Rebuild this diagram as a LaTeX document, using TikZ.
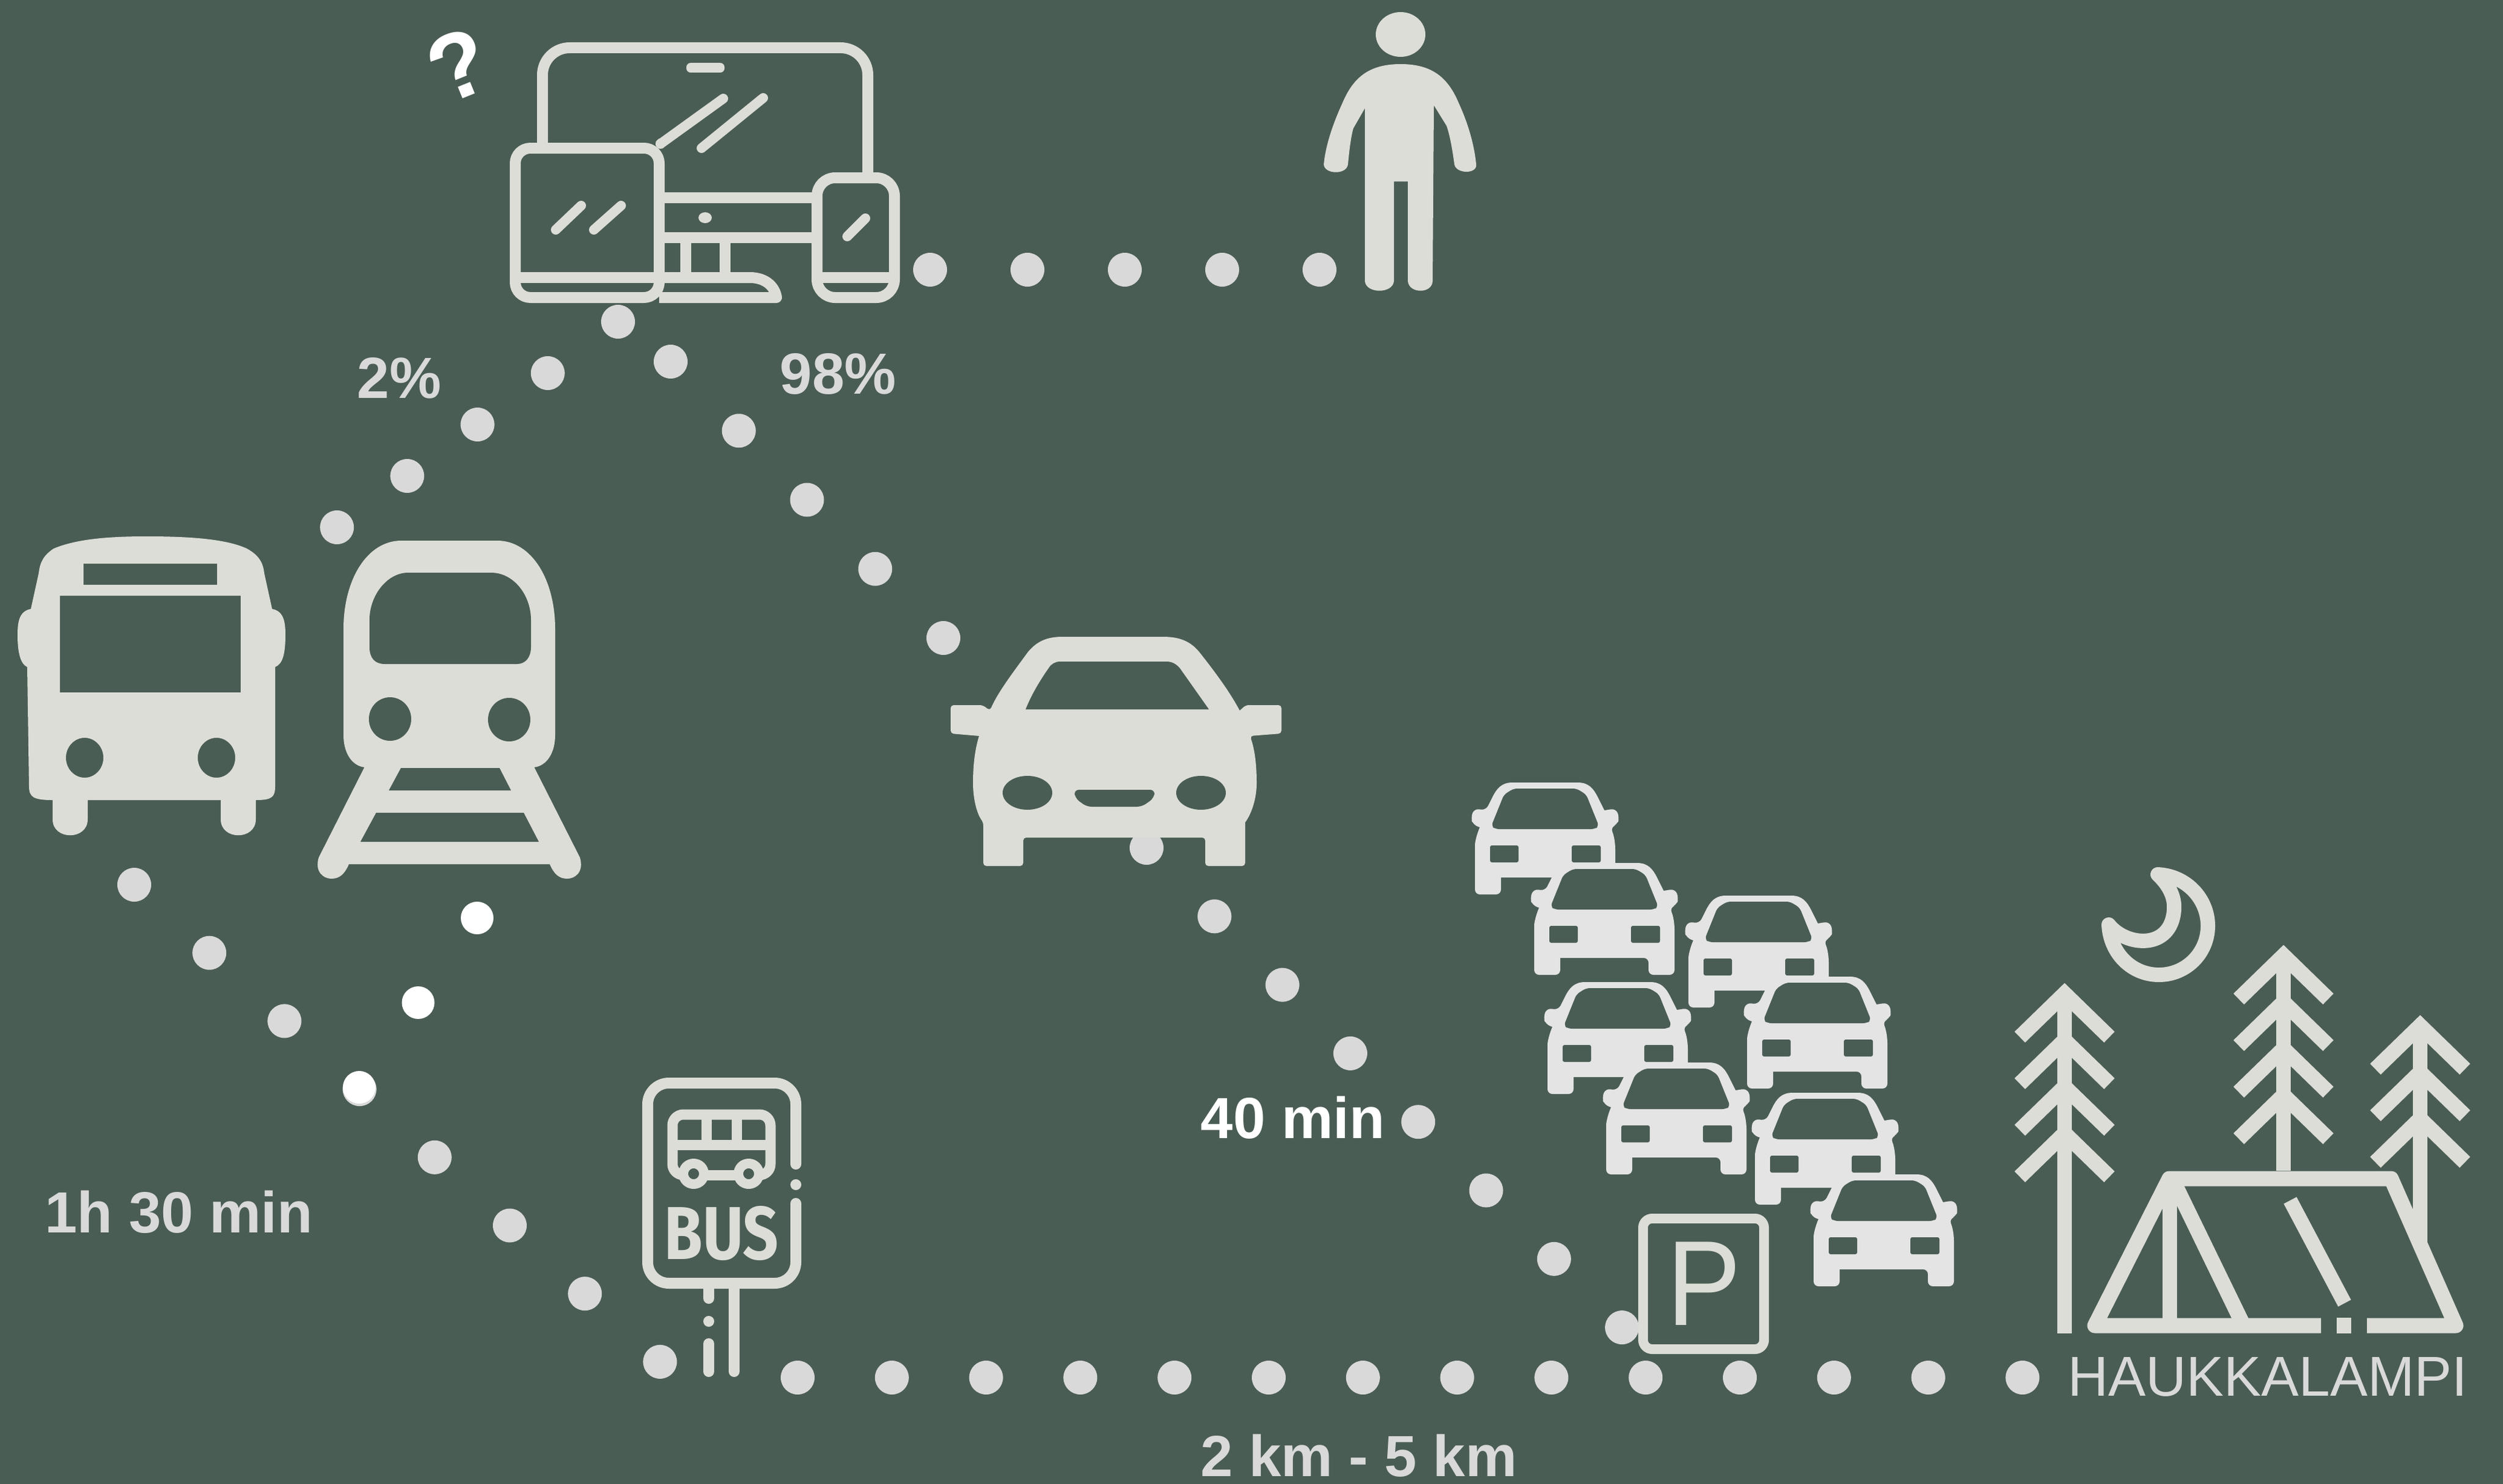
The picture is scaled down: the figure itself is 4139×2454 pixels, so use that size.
\documentclass[tikz,border=0pt]{standalone}
\usepackage{fontspec}
\setmainfont{Liberation Sans}
\newfontfamily\busfont{Fira Sans}
\definecolor{bgc}{HTML}{4A5D54}
\definecolor{iconc}{HTML}{DCDDD7}
\definecolor{dotc}{HTML}{D9D9D9}
\definecolor{carc}{HTML}{E4E4E4}
\tikzset{
  dotg/.style={fill=dotc},
  dotw/.style={fill=white},
  lab/.style={inner sep=0pt,font=\fontsize{96}{100}\selectfont\bfseries,text=dotc},
  labw/.style={lab,text=white},
  ico/.style={draw=iconc,line width=18pt,line join=round,line cap=round},
  glare/.style={draw=iconc,line width=16pt,line cap=round},
  chev/.style={draw=iconc,line width=25pt,line join=miter,line cap=butt},
  trafficcar/.pic={
    \fill[carc] (-54,0) -- (54,0) .. controls (72,0) and (80,10) .. (87,24) -- (98,46) [rounded corners=8pt] -- (117,43) -- (123,58) -- (119,70) -- (108,74) [sharp corners] .. controls (114,88) and (116,100) .. (116,111) [rounded corners=8pt] -- (116,185) -- (73,185) -- (73,157) [sharp corners] -- (-73,157) [rounded corners=8pt] -- (-73,185) -- (-116,185) -- (-116,111) [sharp corners] .. controls (-116,100) and (-114,88) .. (-108,74) [rounded corners=8pt] -- (-119,70) -- (-123,58) -- (-117,43) -- (-98,46) [sharp corners] -- (-87,24) .. controls (-80,10) and (-72,0) .. (-54,0) -- cycle;
    \fill[bgc,rounded corners=6pt] (-52,10) -- (52,10) -- (68,20) -- (89,72) -- (82,77) -- (-82,77) -- (-89,72) -- (-68,20) -- cycle;
    \fill[bgc,rounded corners=3pt] (-91,104) rectangle (-44,132);
    \fill[bgc,rounded corners=3pt] (44,104) rectangle (92,132);
  },
  treechev/.pic={
    \draw[chev] (-74,72) -- (0,0) -- (74,72);
  }
}
\begin{document}
\begin{tikzpicture}[x=1pt,y=-1pt]
\fill[bgc] (0,0) rectangle (4139,2454);
\useasboundingbox (0,0) rectangle (4139,2454);

% dotted routes
\foreach \i in {0,...,4} \fill[dotg] ({1538+161*\i},446) circle [radius=28];
\foreach \i in {0,...,4} \fill[dotg] ({1022-116.2*\i},{532+85*\i}) circle [radius=28];
\foreach \i in {0,...,4} \fill[dotg] ({1109+112.75*\i},{598+114.25*\i}) circle [radius=28];
\foreach \i in {0,...,7} \fill[dotg] ({1896+112.3*\i},{1402+113.3*\i}) circle [radius=28];
\foreach \i in {0,...,7} \fill[dotg] ({222+124.2*\i},{1463+112.7*\i}) circle [radius=28];
\foreach \i in {0,...,13} \fill[dotg] ({1319+155.8*\i},2278) circle [radius=28];
\foreach \i in {0,1,2} \fill[dotw] ({789-97.5*\i},{1518+140*\i}) circle [radius=27];

% devices
\draw[ico,rounded corners=45pt] (897,237) -- (897,79) -- (1435,79) -- (1435,286);
\draw[ico,rounded corners=25pt] (852,245) rectangle (1090,492);
\draw[ico,rounded corners=30pt] (1351,294) rectangle (1479,492);
\draw[ico,line cap=butt] (1090,327) -- (1351,327);
\draw[ico,line cap=butt] (1090,393) -- (1351,393);
\draw[ico,line cap=butt] (1134,400) -- (1134,451);
\draw[ico,line cap=butt] (1199,400) -- (1199,451);
\draw[ico,line cap=butt] (852,459) -- (1090,459);
\draw[ico,line cap=butt] (1351,459) -- (1479,459);
\draw[ico,line cap=butt,line join=round] (1090,459) -- (1240,459) .. controls (1268,459) and (1282,476) .. (1284,492) -- (1090,492);
\fill[iconc,rounded corners=7pt] (1135,104) rectangle (1198,120);
\fill[iconc] (1166,360) ellipse [x radius=11,y radius=9];
\draw[glare,line cap=butt] (1090,240) -- (1095,235);
\draw[glare] (1092,238) -- (1196,163);
\draw[glare] (1160,245) -- (1262,162);
\draw[glare] (919,380) -- (961,340);
\draw[glare] (982,380) -- (1027,340);
\draw[glare] (1401,391) -- (1431,361);
\node[inner sep=0pt,rotate=22,text=white,font=\fontsize{155}{160}\selectfont\bfseries] (qm) at (758,108) {?};

% person
\fill[iconc] (2316,57) ellipse [x radius=41,y radius=37];
\fill[iconc] (2316,106) .. controls (2370,106) and (2395,130) .. (2412,170) .. controls (2428,205) and (2438,240) .. (2441,272) .. controls (2443,288) and (2408,288) .. (2405,272) .. controls (2402,250) and (2398,225) .. (2392,208) -- (2371,174) -- (2369,465) .. controls (2368,486) and (2330,486) .. (2328,465) -- (2328,300) -- (2305,300) -- (2305,465) .. controls (2303,486) and (2259,486) .. (2257,465) -- (2257,179) -- (2238,212) .. controls (2234,225) and (2231,250) .. (2229,272) .. controls (2226,290) and (2190,288) .. (2189,272) .. controls (2192,240) and (2204,205) .. (2220,170) .. controls (2237,130) and (2262,106) .. (2316,106) -- cycle;

% labels
\node[lab] (pa) at (660,625) {2\%};
\node[lab] (pb) at (1386,618) {98\%};
\node[lab] (ta) at (296,2004) {1h 30 min};
\node[labw] (tb) at (2138,1848) {40 min};
\node[lab] (dist) at (2247,2407) {2 km - 5 km};

% bus
\fill[iconc,even odd rule]
  (242,887) .. controls (320,887) and (375,892) .. (408,907) .. controls (428,918) and (435,930) .. (437,948) -- (450,1007) .. controls (465,1010) and (472,1020) .. (472,1049) .. controls (472,1080) and (468,1098) .. (455,1103) -- (455,1300) .. controls (455,1318) and (450,1323) .. (423,1323) -- (423,1355) .. controls (423,1390) and (365,1390) .. (365,1355) -- (365,1323) -- (145,1323) -- (145,1355) .. controls (145,1390) and (87,1390) .. (87,1355) -- (87,1323) .. controls (55,1323) and (48,1318) .. (48,1300) -- (45,1103) .. controls (34,1098) and (29,1080) .. (29,1049) .. controls (29,1020) and (36,1010) .. (51,1007) -- (64,948) .. controls (66,930) and (72,918) .. (89,907) .. controls (125,892) and (175,887) .. (242,887) -- cycle
  (138,932) rectangle (359,967)
  (99,985) rectangle (398,1145)
  (140,1253) ellipse [x radius=31,y radius=33]
  (358,1253) ellipse [x radius=31,y radius=33];

% train
\fill[iconc] (606,1262) -- (527,1418) .. controls (520,1442) and (535,1453) .. (548,1453) .. controls (562,1453) and (570,1445) .. (577,1429) -- (909,1429) .. controls (916,1445) and (924,1453) .. (938,1453) .. controls (951,1453) and (966,1442) .. (959,1418) -- (880,1262) -- cycle;
\fill[bgc] (663,1270) -- (826,1270) -- (845,1307) -- (643,1307) -- cycle;
\fill[bgc] (622,1344) -- (866,1344) -- (891,1392) -- (596,1392) -- cycle;
\fill[iconc] (664,894) -- (822,894) .. controls (880,894) and (918,960) .. (918,1040) -- (918,1215) .. controls (918,1250) and (900,1269) .. (880,1269) -- (606,1269) .. controls (586,1269) and (568,1250) .. (568,1215) -- (568,1040) .. controls (568,960) and (606,894) .. (664,894) -- cycle;
\fill[bgc] (675,947) -- (812,947) .. controls (850,947) and (878,985) .. (878,1025) -- (878,1070) .. controls (878,1088) and (868,1098) .. (855,1098) -- (636,1098) .. controls (620,1098) and (611,1088) .. (611,1070) -- (611,1025) .. controls (611,985) and (640,947) .. (675,947) -- cycle;
\fill[bgc] (645,1189) ellipse [x radius=35,y radius=36];
\fill[bgc] (842,1190) ellipse [x radius=35,y radius=36];

% car
\fill[iconc] (1757,1053) -- (1923,1053) .. controls (1950,1053) and (1968,1060) .. (1983,1078) .. controls (2010,1112) and (2034,1145) .. (2050,1175) [rounded corners=5pt] -- (2060,1166) -- (2119,1166) -- (2119,1213) -- (2067,1217) [sharp corners] .. controls (2075,1240) and (2078,1265) .. (2078,1295) .. controls (2078,1320) and (2070,1345) .. (2059,1360) [rounded corners=5pt] -- (2059,1432) -- (1993,1432) -- (1993,1385) -- (1692,1385) -- (1692,1432) -- (1626,1432) -- (1626,1360) [sharp corners] .. controls (1615,1345) and (1609,1320) .. (1609,1295) .. controls (1609,1265) and (1612,1240) .. (1619,1217) [rounded corners=5pt] -- (1572,1213) -- (1572,1166) -- (1625,1166) -- (1637,1175) [sharp corners] .. controls (1650,1145) and (1675,1112) .. (1700,1078) .. controls (1715,1060) and (1732,1053) .. (1757,1053) -- cycle;
\fill[bgc] (1696,1173) -- (1999,1173) -- (1951,1105) .. controls (1945,1098) and (1938,1094) .. (1929,1094) -- (1753,1094) .. controls (1745,1094) and (1738,1098) .. (1734,1105) .. controls (1720,1125) and (1706,1148) .. (1696,1173) -- cycle;
\fill[bgc] (1699,1311) ellipse [x radius=41,y radius=28];
\fill[bgc] (1986,1311) ellipse [x radius=41,y radius=28];
\fill[bgc,rounded corners=8pt] (1776,1306) -- (1910,1306) -- (1908,1320) -- (1888,1334) -- (1797,1334) -- (1778,1320) -- cycle;

% queue of cars
\foreach \cx/\cy in {2555/1294,2653/1427,2908/1481,3005/1615,2675/1624,2772/1757,3018/1807,3115/1942}
  \pic at (\cx,\cy) {trafficcar};

% parking sign
\draw[draw=iconc,line width=16pt,rounded corners=15pt] (2717,2015) rectangle (2917,2231);
\node[inner sep=0pt,text=iconc,xscale=.92,font=\fontsize{200}{200}\selectfont] (psign) at (2818,2123) {P};

% bus stop
\draw[ico,rounded corners=35pt] (1316,1925) -- (1316,1791) -- (1071,1791) -- (1071,2122) -- (1316,2122) -- (1316,1990);
\fill[iconc] (1316,1959) circle [radius=9];
\draw[ico,line cap=round] (1214,2131) -- (1214,2268);
\draw[ico] (1172,2131) -- (1172,2147);
\fill[iconc] (1172,2185) circle [radius=9];
\draw[ico] (1172,2222) -- (1172,2268);
\draw[ico,rounded corners=18pt,line width=17pt] (1147,1943) -- (1112,1943) -- (1112,1843) -- (1274,1843) -- (1274,1943) -- (1238,1943);
\draw[ico,line width=17pt,line cap=butt] (1112,1893) -- (1274,1893);
\draw[ico,line width=17pt,line cap=butt] (1168,1843) -- (1168,1893);
\draw[ico,line width=17pt,line cap=butt] (1218,1843) -- (1218,1893);
\draw[ico,line width=17pt,line cap=butt] (1147,1943) -- (1238,1943);
\draw[ico,line width=16pt,fill=bgc] (1147,1941) circle [radius=17];
\draw[ico,line width=16pt,fill=bgc] (1238,1941) circle [radius=17];
\node[inner sep=0pt,text=iconc,xscale=.83,font=\busfont\fontsize{124}{124}\selectfont\bfseries] (bus) at (1193,2040) {BUS};

% trees
\foreach \tx/\ty/\tn/\tb in {3414/1643/3/2205,3776/1580/3/1936,4002/1696/2/2055}{
  \draw[iconc,line width=24pt] (\tx,\ty) -- (\tx,\tb);
  \foreach \k in {0,...,\tn} \pic at (\tx,{\ty+77*\k}) {treechev};
}

% moon
\draw[draw=iconc,line width=24pt,line join=round] (3568,1446) .. controls (3615,1448) and (3651,1486) .. (3651,1531) .. controls (3651,1576) and (3615,1612) .. (3570,1612) .. controls (3525,1612) and (3489,1576) .. (3487,1529) .. controls (3515,1565) and (3590,1572) .. (3595,1505) .. controls (3597,1482) and (3585,1462) .. (3568,1446) -- cycle;

% tent
\draw[draw=iconc,line width=25pt,line join=round] (3838,2192) -- (3464,2192) -- (3587,1949) -- (3954,1949) -- (4061,2192) -- (3914,2192);
\draw[iconc,line width=24pt] (3588,1955) -- (3588,2192);
\draw[iconc,line width=25pt] (3592,1949) -- (3710,2192);
\draw[iconc,line width=24pt] (3787,1985) -- (3877,2155);
\fill[iconc] (3864,2179) rectangle (3888,2205);

\node[inner sep=0pt,text=dotc,font=\fontsize{93}{94}\selectfont] (lake) at (3750,2277) {HAUKKALAMPI};
\end{tikzpicture}
\end{document}
